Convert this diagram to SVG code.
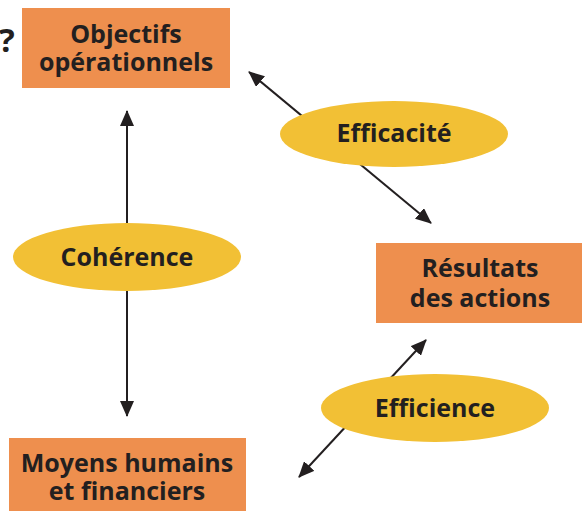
<svg xmlns="http://www.w3.org/2000/svg" width="582" height="511" viewBox="0 0 582 511">
<defs>
<marker id="ah" viewBox="0 0 16 14" markerWidth="16" markerHeight="14" refX="15" refY="7" orient="auto-start-reverse" markerUnits="userSpaceOnUse">
<path d="M0,0 L16,7 L0,14 z" fill="#231f20"/>
</marker>
<style>
.box{fill:#ee8f4e}
.ell{fill:#f2c035}
.t{font-family:"Open Sans",Lato,sans-serif;font-weight:bold;font-size:25px;fill:#231f20;text-anchor:middle}
.c{stroke:#231f20;stroke-width:2;fill:none;marker-start:url(#ah);marker-end:url(#ah)}
</style>
</defs>
<rect width="582" height="511" fill="#ffffff"/>
<text x="-1" y="52" class="t" style="text-anchor:start;font-size:33px">?</text>
<g id="connectors">
<line class="c" x1="127" y1="111" x2="127" y2="416"/>
<line class="c" x1="249" y1="72" x2="431" y2="223"/>
<line class="c" x1="426" y1="340" x2="299" y2="477"/>
</g>
<g id="objectifs">
<rect class="box" x="22" y="8" width="208" height="80"/>
<text class="t" x="126" y="43">Objectifs</text>
<text class="t" x="126" y="71">opérationnels</text>
</g>
<g id="resultats">
<rect class="box" x="376" y="243" width="206" height="80"/>
<text class="t" x="480" y="277">Résultats</text>
<text class="t" x="480" y="307">des actions</text>
</g>
<g id="moyens">
<rect class="box" x="9" y="438" width="237" height="73"/>
<text class="t" x="127" y="472">Moyens humains</text>
<text class="t" x="127" y="500">et financiers</text>
</g>
<g id="coherence">
<ellipse class="ell" cx="127" cy="257" rx="114" ry="34"/>
<text class="t" x="127" y="266">Cohérence</text>
</g>
<g id="efficacite">
<ellipse class="ell" cx="394" cy="134" rx="114" ry="33"/>
<text class="t" x="394" y="142">Efficacité</text>
</g>
<g id="efficience">
<ellipse class="ell" cx="435" cy="408" rx="114" ry="34"/>
<text class="t" x="435" y="417">Efficience</text>
</g>
</svg>
